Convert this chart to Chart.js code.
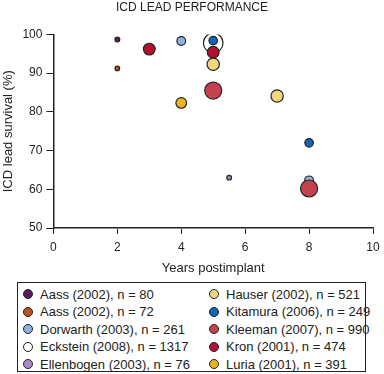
<!DOCTYPE html>
<html>
<head>
<meta charset="utf-8">
<script src="https://cdn.jsdelivr.net/npm/chart.js@4"></script>
<style>
  body { margin: 0; background: #fff; font-family: "Liberation Sans", Arial, Helvetica, sans-serif; }
  #wrap { position: relative; width: 384px; height: 374px; }
  #legend {
    position: absolute; left: 17px; top: 282px; width: 349px; height: 90px;
    box-sizing: border-box; border: 1.5px solid #222; padding: 2.5px 0 0 5px;
    display: grid; grid-auto-flow: column; grid-template-rows: repeat(5, 17.5px);
    grid-template-columns: 186px auto; font-size: 13px; color: #222;
  }
  .item { display: flex; align-items: center; white-space: nowrap; }
  .dot { width: 8px; height: 8px; border-radius: 50%; border: 1.5px solid #222; margin-right: 7px; }
</style>
</head>
<body>
<div id="wrap">
  <canvas id="chart" width="384" height="276"></canvas>
  <div id="legend"></div>
</div>
<script>
// --- Data ---
const authors = ['Aass', 'Aass', 'Dorwarth', 'Eckstein', 'Ellenbogen', 'Hauser', 'Kitamura', 'Kleeman', 'Kron', 'Luria'];
const years = [2002, 2002, 2003, 2008, 2003, 2002, 2006, 2007, 2001, 2001];
const sampleSizes = [80, 72, 261, 1317, 76, 521, 249, 990, 474, 391];
const colors = ['#5b1a5c', '#b5561c', '#8fb1e3', '#ffffff', '#a88cc4', '#f2d77c', '#1663b5', '#c3424d', '#b3112f', '#e8b523'];
const yearsPostimplant = [[2], [2], [4, 8], [5], [5.5], [5, 7], [5, 8], [5, 8], [3, 5], [4]];
const leadSurvival = [[98.7], [91.2], [98.3, 62.3], [97.8], [63.0], [92.3, 84.1], [98.4, 72.0], [85.5, 60.2], [96.2, 95.4], [82.3]];
const xTicks = [0, 2, 4, 6, 8, 10];
const yTicks = [50, 60, 70, 80, 90, 100];
const drawOrder = [1, 1, 9, 10, 1, 1, 1, 1, 5, 1];

const FONT = '"Liberation Sans", Arial, Helvetica, sans-serif';
const INK = '#222';
const bubbleScale = 0.27; // radius ~ sqrt(n)

const labels = authors.map((a, i) => `${a} (${years[i]}), n = ${sampleSizes[i]}`);

const datasets = labels.map((label, i) => ({
    label: label,
    data: yearsPostimplant[i].map((x, j) => ({ x: x, y: leadSurvival[i][j], r: bubbleScale * Math.sqrt(sampleSizes[i]) })),
    backgroundColor: colors[i],
    borderColor: INK,
    borderWidth: 1.2,
    order: drawOrder[i]
}));

new Chart(document.getElementById('chart'), {
    type: 'bubble',
    data: { datasets: datasets },
    options: {
        responsive: false, animation: false, devicePixelRatio: 1,
        layout: { padding: { left: 0, right: 0, top: 0, bottom: 0 } },
        plugins: {
            legend: { display: false }, tooltip: { enabled: false },
            title: { display: true, text: 'ICD LEAD PERFORMANCE', color: INK, font: { family: FONT, size: 12, weight: 'normal' }, padding: { top: 0, bottom: 20 } }
        },
        scales: {
            x: {
                type: 'linear', min: 0, max: 10,
                afterBuildTicks: s => { s.ticks = xTicks.map(v => ({ value: v })); },
                afterFit: s => { s.paddingRight = 7; },
                ticks: { color: INK, font: { family: FONT, size: 12 }, padding: 6 },
                grid: { drawOnChartArea: false, drawTicks: true, tickLength: 6, color: INK },
                border: { display: true, color: INK, width: 1.5 },
                title: { display: true, text: 'Years postimplant', color: INK, font: { family: FONT, size: 13 }, padding: { top: 0, bottom: 0 } }
            },
            y: {
                type: 'linear', min: 50, max: 100,
                afterBuildTicks: s => { s.ticks = yTicks.map(v => ({ value: v })); },
                ticks: { color: INK, font: { family: FONT, size: 12 }, padding: 4 },
                grid: { drawOnChartArea: false, drawTicks: true, tickLength: 7, color: INK },
                border: { display: true, color: INK, width: 1.5 },
                title: { display: true, text: 'ICD lead survival (%)', color: INK, font: { family: FONT, size: 13 }, padding: { top: 0.5, bottom: 2.3 } }
            }
        }
    }
});

// --- HTML legend (two columns) ---
document.getElementById('legend').innerHTML = labels.map((l, i) =>
    `<div class="item"><span class="dot" style="background:${colors[i]}"></span>${l}</div>`).join('');
</script>
</body>
</html>
